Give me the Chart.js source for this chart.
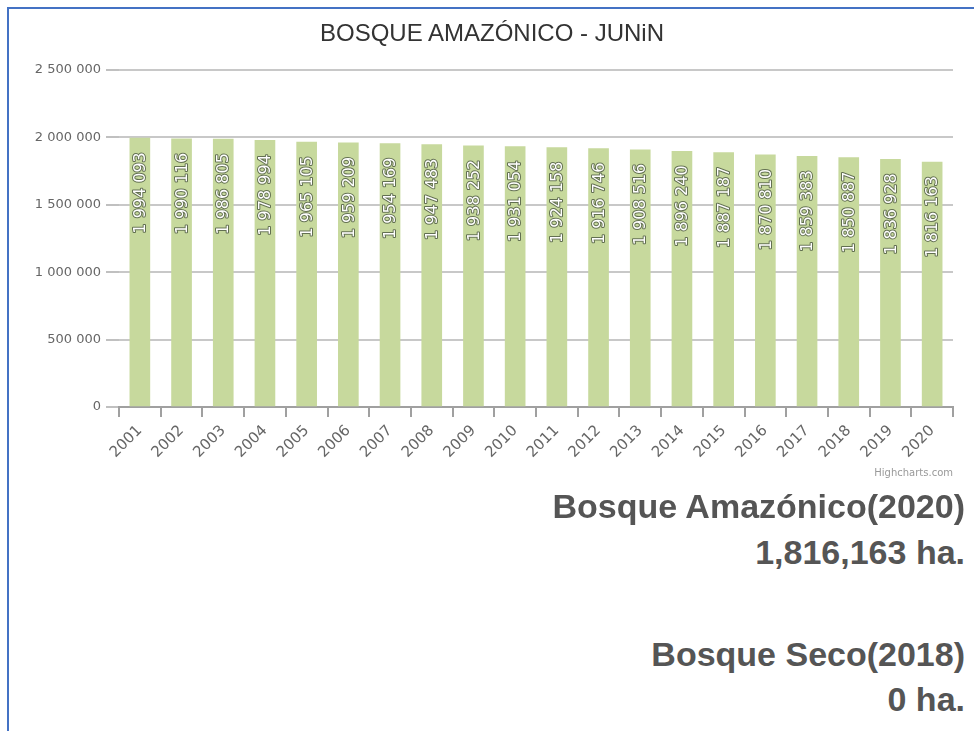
<!DOCTYPE html>
<html>
<head>
  <meta charset="utf-8" />
  <title>Bosque Amazónico - Junín</title>
  <script src="https://cdn.jsdelivr.net/npm/chart.js"></script>
  <style>
    html, body {
      margin: 0;
      padding: 0;
      background: #fff;
      width: 974px;
      height: 731px;
      overflow: hidden;
      font-family: "Liberation Sans", Arial, sans-serif;
    }
    .frame {
      position: absolute;
      left: 7px;
      top: 7px;
      right: -10px;
      bottom: -10px;
      border-left: 2px solid #4472c4;
      border-top: 2px solid #4472c4;
    }
    #chart {
      position: absolute;
      left: 0;
      top: 0;
    }
    .title {
      position: absolute;
      left: 9px;
      width: 966px;
      top: 21px;
      text-align: center;
      font-size: 24px;
      line-height: 24px;
      color: #333;
    }
    .credits {
      position: absolute;
      right: 21px;
      top: 468px;
      font-size: 10px;
      line-height: 10px;
      color: #999;
      font-family: "DejaVu Sans", sans-serif;
    }
    .summary {
      position: absolute;
      right: 9px;
      font-size: 34px;
      line-height: 34px;
      font-weight: bold;
      color: #555;
      text-align: right;
      white-space: nowrap;
    }
  </style>
</head>
<body>
  <div class="frame"></div>
  <canvas id="chart" width="974" height="490"></canvas>
  <div class="title">BOSQUE AMAZÓNICO - JUNiN</div>
  <div class="credits">Highcharts.com</div>
  <div class="summary" style="top:489px">Bosque Amazónico(2020)</div>
  <div class="summary" style="top:535px">1,816,163 ha.</div>
  <div class="summary" style="top:637px">Bosque Seco(2018)</div>
  <div class="summary" style="top:682px">0 ha.</div>

  <script>
    // Jahre und Werte (ha)
    const years = ['2001', '2002', '2003', '2004', '2005', '2006', '2007', '2008', '2009', '2010',
                   '2011', '2012', '2013', '2014', '2015', '2016', '2017', '2018', '2019', '2020'];
    const forestValues = [1994093, 1990116, 1986805, 1978994, 1965105, 1959209, 1954169, 1947483, 1938252, 1931054,
                          1924158, 1916746, 1908516, 1896240, 1887187, 1870810, 1859383, 1850887, 1836928, 1816163];
    const yTicks = [0, 500000, 1000000, 1500000, 2000000, 2500000];

    // Zahlen mit Leerzeichen als Tausendertrenner
    function spaced(v) {
      return String(Math.round(v)).replace(/\B(?=(\d{3})+(?!\d))/g, ' ');
    }

    // eigene Datenbeschriftung (senkrecht, im Balken oben)
    const barLabels = {
      id: 'barLabels',
      afterDatasetsDraw(chart) {
        const ctx = chart.ctx;
        const meta = chart.getDatasetMeta(0);
        ctx.save();
        ctx.font = '16px "DejaVu Sans", sans-serif';
        ctx.textAlign = 'right';
        ctx.textBaseline = 'middle';
        ctx.lineJoin = 'round';
        meta.data.forEach((bar, i) => {
          const txt = spaced(forestValues[i]);
          ctx.save();
          ctx.translate(bar.x + 1, bar.y + 14);
          ctx.rotate(-Math.PI / 2);
          ctx.strokeStyle = 'rgba(30,40,30,0.6)';
          ctx.lineWidth = 2;
          ctx.strokeText(txt, 0, 0);
          ctx.fillStyle = '#fff';
          ctx.fillText(txt, 0, 0);
          ctx.restore();
        });
        ctx.restore();
      }
    };

    const ctx = document.getElementById('chart').getContext('2d');
    new Chart(ctx, {
      type: 'bar',
      data: {
        labels: years,
        datasets: [{
          data: forestValues,
          backgroundColor: '#c7d99d',
          borderWidth: 0,
          barThickness: 20
        }]
      },
      options: {
        responsive: false,
        animation: false,
        layout: {
          padding: { top: 70, right: 21, left: 0, bottom: 0 }
        },
        plugins: {
          legend: { display: false },
          tooltip: { enabled: false },
          title: { display: false }
        },
        scales: {
          x: {
            afterFit(scale) { scale.height = 83; },
            border: { display: true, color: '#a0a0a0', width: 2 },
            grid: {
              offset: true,
              drawOnChartArea: false,
              drawTicks: true,
              tickLength: 10,
              color: '#a0a0a0',
              lineWidth: 2
            },
            ticks: {
              minRotation: 45,
              maxRotation: 45,
              autoSkip: false,
              padding: 5,
              color: '#666',
              font: { family: '"DejaVu Sans", sans-serif', size: 15 }
            }
          },
          y: {
            min: 0,
            max: 2500000,
            afterFit(scale) { scale.width = 119; },
            afterBuildTicks(scale) {
              scale.ticks = yTicks.map(v => ({ value: v }));
            },
            border: { display: false },
            grid: {
              color: '#c8c8c8',
              lineWidth: 2,
              tickLength: 13,
              tickColor: '#c0c0c0'
            },
            ticks: {
              padding: 5,
              color: '#666',
              font: { family: '"DejaVu Sans", sans-serif', size: 13 },
              callback: (v) => spaced(v)
            }
          }
        }
      },
      plugins: [barLabels]
    });
  </script>
</body>
</html>
